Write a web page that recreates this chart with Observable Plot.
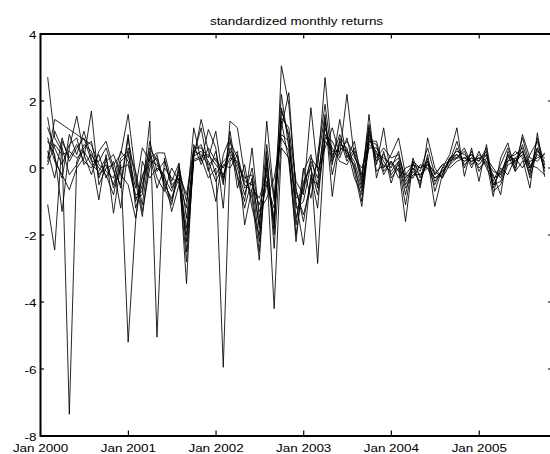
<!DOCTYPE html>
<html><head><meta charset="utf-8">
<script src="https://cdn.jsdelivr.net/npm/d3@7"></script>
<script src="https://cdn.jsdelivr.net/npm/@observablehq/plot@0.6"></script>
<style>html,body{margin:0;padding:0;overflow:hidden;background:#fff}</style>
</head><body><div id="chart"></div>
<script>
const title = "standardized monthly returns";

// standardized monthly returns, end of Jan 2000 .. end of Sep 2005 (one array per series)
const s1 = [2.7, 0.9, 0.5, -7.35, 0.2, 0.7, 0.5, -0.2, 0.1, -0.5, 0.3, 0.5,
 -1.0, -0.3, 0.6, 0.2, -0.5, -0.9, -0.3, -1.8, 0.5, 0.4, 0.1, 0.3,
 -0.3, 0.8, 0.3, -0.6, -0.4, -2.2, 0.2, -1.8, 1.8, 0.9, -1.5, -0.5,
 0.2, -0.3, 1.2, 0.4, 0.6, 0.5, 0.2, -0.6, 1.0, 0.4, 0.3, 0.1,
 0.3, -0.4, 0.0, -0.2, 0.1, -0.3, -0.1, 0.2, 0.4, 0.2, 0.3, 0.1,
 0.4, -0.3, -0.2, 0.4, 0.2, 0.5, -0.1, 0.6, 0.0];
const s2 = [-1.1, -2.45, 0.8, 0.3, 0.7, 0.2, 0.0, 0.4, -0.3, 0.2, -0.6, 0.9,
 -0.4, -1.45, 0.3, 0.45, 0.45, -0.4, 0.15, -2.5, 0.3, 1.45, 0.5, -0.2,
 0.2, 0.4, -0.2, -1.0, 0.6, -1.5, -0.5, -1.2, 1.2, 2.25, -0.7, -1.4,
 -0.5, 0.2, 1.6, -0.85, 0.9, 0.2, 0.6, -0.2, 1.3, 0.1, 1.2, -0.3,
 0.0, -1.6, 0.2, -0.6, 0.9, 0.0, -0.3, 0.1, 0.3, 0.6, 0.1, 0.4,
 0.2, -0.85, 0.3, 0.75, -0.1, 1.0, 0.3, 0.2, 0.45];
const s3 = [1.5, 0.3, -0.3, 1.0, 0.4, 1.1, 0.3, -0.95, 0.4, -1.35, 0.1, -5.2,
 -1.6, 0.2, -0.3, 0.0, -0.2, -1.3, -0.5, -1.2, 1.2, 0.2, 1.15, 0.6,
 -1.2, 1.4, 1.2, -0.2, -0.9, -2.75, 0.5, -2.4, 0.9, 0.5, -2.2, -0.1,
 0.4, -0.6, 0.9, 0.8, 0.3, 0.9, -0.1, -1.15, 0.8, 0.8, 0.0, 0.4,
 0.9, -0.2, -0.3, 0.1, 0.0, -0.5, 0.0, 0.4, 1.2, -0.25, 0.6, -0.4,
 0.7, -0.5, -0.4, 0.2, 0.5, 0.3, -0.6, 1.05, -0.25];
const s4 = [0.3, 1.45, 1.3, 1.15, 1.0, 0.85, 0.7, 0.1, -0.1, -0.3, 0.5, 0.2,
 -0.8, -0.7, 1.4, -5.05, 0.3, -0.6, -0.2, -0.8, 0.6, 0.6, 0.3, 1.1,
 -0.4, 0.6, 0.1, -0.3, -0.2, -1.8, 1.4, -0.9, 2.2, 0.6, -1.0, -2.3,
 -0.2, -1.2, 1.4, 0.1, 1.45, 0.3, 0.8, -0.4, 1.6, -0.3, 0.5, -0.45,
 0.2, -0.8, 0.3, -0.3, 0.3, -1.15, -0.2, 0.3, 0.5, 0.4, 0.2, 0.3,
 0.1, -0.2, -0.8, 0.5, 0.0, 0.7, 0.0, 0.4, 0.2];
const s5 = [0.8, 0.4, -1.3, 0.6, 1.55, 0.4, -0.2, 0.5, 0.8, 0.0, -1.2, 0.6,
 -0.1, -1.1, 0.5, -0.3, -0.7, 0.0, -0.4, -2.2, 0.2, 0.3, -0.3, 0.0,
 -5.95, 0.2, 0.5, -1.7, -0.6, -0.9, -0.2, -1.5, 1.5, 1.2, -0.4, -0.8,
 1.8, -0.1, 0.6, 1.2, 0.4, 2.2, 0.3, 0.0, 0.7, 0.5, -0.2, 0.2,
 -0.3, 0.0, 0.1, -0.1, 0.6, -0.2, 0.1, 0.0, 0.2, 0.3, 0.4, 0.2,
 0.5, -0.6, 0.0, -0.2, 0.3, 0.0, 0.4, 0.8, -0.1];
const s6 = [0.2, 1.1, 0.6, -0.2, 0.1, 0.6, 0.8, -0.3, 0.2, 0.4, -0.2, -0.5,
 -1.5, -0.2, 0.1, 0.3, -0.4, -1.0, 0.1, -1.5, 0.4, 1.2, 0.0, -1.0,
 0.4, 0.9, -0.6, 0.1, -1.2, -2.0, 0.0, -4.2, 0.6, 0.3, -1.7, 0.0,
 -0.9, 0.4, 1.9, 0.2, 0.7, 0.6, -0.3, -0.8, 1.1, 0.2, 0.4, 0.0,
 0.5, -0.5, -0.1, -0.4, 0.2, -0.4, -0.1, 0.2, 0.8, 0.0, 0.5, -0.1,
 0.3, 0.0, -0.3, 0.3, 0.4, 0.6, -0.3, 0.5, 0.3];
const s7 = [1.2, 0.6, 0.1, 0.7, 0.9, 0.1, 0.4, 0.0, -0.2, -0.8, 0.2, 0.4,
 -0.6, 0.6, 0.2, 0.1, -0.3, -0.7, -0.1, -3.45, 0.7, 0.1, 0.6, 0.2,
 0.0, 0.5, 0.0, -0.8, 0.0, -1.3, -0.9, -0.3, 1.0, 0.8, -1.2, -1.0,
 0.1, -2.85, 1.0, 0.6, 0.2, 0.1, 0.5, -0.5, 0.6, 0.6, 0.2, -0.2,
 0.1, -1.1, 0.2, 0.0, 0.1, -0.1, -0.3, 0.3, 0.3, 0.5, 0.0, 0.5,
 0.0, -0.4, 0.1, 0.6, 0.1, 0.9, 0.1, 0.0, -0.2];
const s8 = [0.5, -0.3, 0.9, 0.2, 0.6, 0.9, 0.2, 0.2, 0.6, -0.1, -0.5, 1.0,
 -1.2, -0.5, 0.4, -0.6, 0.0, -0.3, -0.45, -2.0, 0.35, 0.5, 0.2, -0.4,
 0.1, 0.0, 0.4, -0.5, -0.7, -2.5, 0.3, -2.0, 3.05, 1.9, -0.6, -1.6,
 -0.3, -0.5, 1.5, -0.2, 0.8, 0.4, 0.1, -1.0, 0.9, 0.3, 0.6, 0.3,
 0.4, -0.3, 0.0, -0.5, 0.4, -0.7, 0.0, 0.1, 0.6, 0.1, 0.3, 0.2,
 0.6, -0.7, -0.5, 0.1, 0.2, 0.4, -0.2, 0.9, 0.1];
const s9 = [0.9, 0.2, -0.2, -0.65, 0.0, 0.3, 1.7, -0.5, 0.0, 0.1, 0.4, 1.6,
 -0.2, -1.3, 0.0, 0.4, -0.6, -1.1, 0.0, -1.0, 0.5, 0.7, -0.1, 0.5,
 -0.5, 1.1, -0.3, -1.2, -0.3, -1.7, 0.7, -1.0, 1.4, 0.2, -2.0, -0.4,
 0.0, -0.8, 0.8, 0.5, 0.5, 0.8, 0.4, -0.3, 1.2, -0.1, 0.1, -0.1,
 0.2, -0.6, -0.2, -0.2, 0.0, -0.3, -0.2, 0.3, 0.4, 0.2, 0.4, 0.0,
 0.2, -0.1, -0.2, 0.4, -0.1, 0.2, 0.2, 0.3, 0.4];
const s10 = [0.1, 0.7, 0.4, 0.5, 0.3, 0.5, 0.1, -0.1, 0.3, -0.6, 0.0, 0.1,
 -0.9, -0.8, 0.8, -0.1, 0.2, -0.5, -0.3, -2.8, 0.25, 0.35, 0.4, 0.1,
 -0.2, 0.3, 0.2, -0.4, -0.5, -1.1, -0.4, -1.6, 1.7, 1.0, -0.9, -0.7,
 0.3, 0.0, 2.7, 0.3, 1.0, 0.5, 0.0, -0.7, 0.8, 0.7, -0.1, 0.2,
 -0.1, -0.2, 0.1, 0.0, 0.2, -0.2, 0.1, 0.2, 0.3, 0.3, 0.2, 0.3,
 0.4, -0.5, -0.1, 0.2, 0.3, 0.5, 0.0, 0.6, 0.0];

const seriesNames = ["s1","s2","s3","s4","s5","s6","s7","s8","s9","s10"];
const seriesValues = [s1,s2,s3,s4,s5,s6,s7,s8,s9,s10];

const yTicks = [-8, -6, -4, -2, 0, 2, 4];
const xTickYears = [2000, 2001, 2002, 2003, 2004, 2005];
const xDomainStart = "2000-01-01";
const xDomainEnd = "2005-11-02";

// month-end dates (Jan 31 2000 ...)
const dates = d3.range(s1.length).map(i =>
  d3.utcDay.offset(d3.utcMonth.offset(new Date(Date.UTC(2000, 1, 1)), i), -1));
const data = seriesValues.flatMap((vals, k) =>
  vals.map((v, i) => ({date: dates[i], value: v, series: seriesNames[k]})));
const xTicks = xTickYears.map(y => new Date(Date.UTC(y, 0, 1)));

const W = 550, H = 454, mL = 40, mR = -2, mT = 33.5, mB = 18.5;
const plotW = W - mL - mR, plotH = H - mT - mB, tick = 4;

const chart = Plot.plot({
  width: W, height: H,
  marginLeft: mL, marginRight: mR, marginTop: mT, marginBottom: mB,
  style: {fontFamily: "'Liberation Sans', Arial, Helvetica, sans-serif", fontSize: "11.2px", color: "#000", background: "#fff", overflow: "hidden"},
  x: {type: "utc", domain: [new Date(xDomainStart), new Date(xDomainEnd)]},
  y: {domain: [-8, 4]},
  marks: [
    Plot.line(data, {x: "date", y: "value", z: "series", stroke: "#000", strokeWidth: 0.85}),
    Plot.tickY(yTicks, {y: d => d, insetRight: plotW - tick, stroke: "#000", strokeWidth: 1.2}),
    Plot.tickY(yTicks, {y: d => d, insetLeft: plotW - tick, stroke: "#000", strokeWidth: 1.2}),
    Plot.tickX(xTicks, {x: d => d, insetTop: plotH - tick - 1, stroke: "#000", strokeWidth: 1.2}),
    Plot.tickX(xTicks, {x: d => d, insetBottom: plotH - tick - 1, stroke: "#000", strokeWidth: 1.2}),
    Plot.frame({stroke: "#000", strokeWidth: 2}),
    Plot.axisY({ticks: yTicks, anchor: "left", tickSize: 0, tickPadding: 4, dy: 1.5, tickFormat: d => String(d), label: null}),
    Plot.axisX({ticks: xTicks, anchor: "bottom", tickSize: 0, tickPadding: 8.5, tickFormat: "%b %Y", label: null}),
    Plot.text([title], {text: d => d, frameAnchor: "top", lineAnchor: "bottom", dy: -9})
  ]
});

// the reference's lettering is horizontally stretched
chart.querySelectorAll("text").forEach(t => {
  let tr = t.getAttribute("transform") || "";
  const x = t.getAttribute("x");
  if (x != null && !isNaN(+x)) { tr = `${tr} translate(${+x},0)`; t.removeAttribute("x"); }
  t.setAttribute("transform", `${tr} scale(1.2,1)`);
});
document.getElementById("chart").appendChild(chart);
</script>
</body></html>
